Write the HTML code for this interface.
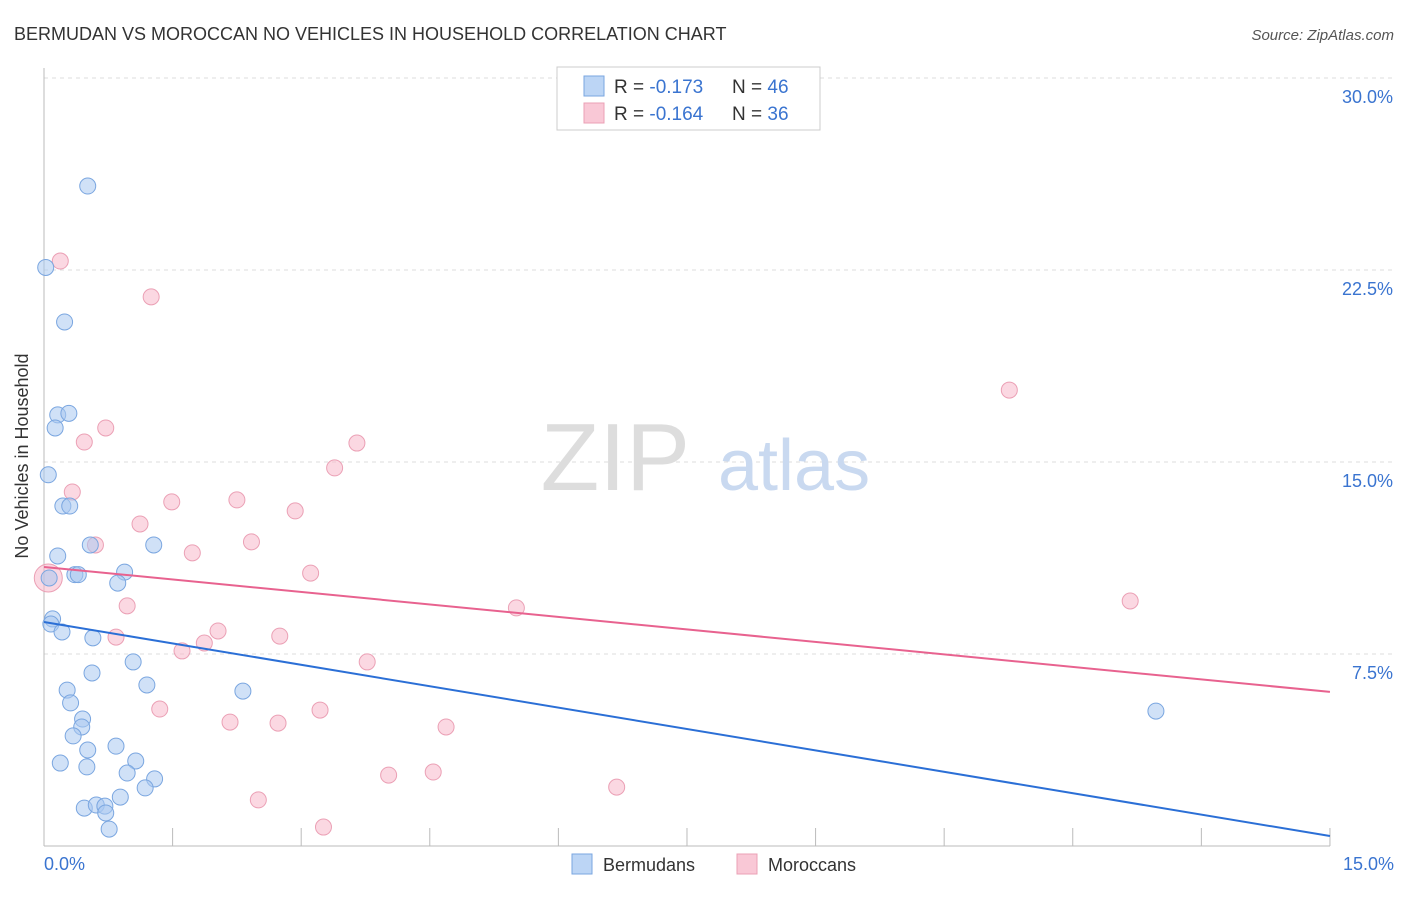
<!DOCTYPE html>
<html><head><meta charset="utf-8"><style>
body{margin:0;background:#fff;font-family:"Liberation Sans",sans-serif;}
svg text{font-family:"Liberation Sans",sans-serif;}
</style></head><body>
<svg id="chart" width="1406" height="892">
<text x="14" y="40" font-size="18" fill="#333">BERMUDAN VS MOROCCAN NO VEHICLES IN HOUSEHOLD CORRELATION CHART</text>
<text x="1394" y="40" font-size="15" fill="#555" font-style="italic" text-anchor="end">Source: ZipAtlas.com</text>
<g id="grid"></g>
<text x="690" y="490" font-size="96" fill="#ddd" text-anchor="end" font-family="Liberation Serif">ZIP</text>
<text x="718" y="490" font-size="72" fill="#c9d9f0">atlas</text>
<line x1="44" y1="68" x2="44" y2="846" stroke="#bbb"/>
<line x1="44" y1="846" x2="1330" y2="846" stroke="#bbb"/>
<g id="ticks"></g>
<text x="28" y="456" font-size="18" fill="#333" text-anchor="middle" transform="rotate(-90 28 456)">No Vehicles in Household</text>
<text x="44" y="870" font-size="18" fill="#3a74d0">0.0%</text>
<text x="1394" y="870" font-size="18" fill="#3a74d0" text-anchor="end">15.0%</text>
<g id="pts"></g>
<g id="lines"></g>
<g>
<rect x="557" y="67" width="263" height="63" fill="#fff" stroke="#ccc"/>
<rect x="584" y="76" width="20" height="20" fill="#bcd5f5" stroke="#7aa6e0"/>
<rect x="584" y="103" width="20" height="20" fill="#f9c8d6" stroke="#eba0b5"/>
<text x="614" y="93" font-size="19" fill="#333">R = <tspan fill="#3a74d0">-0.173</tspan><tspan x="732">N = </tspan><tspan fill="#3a74d0">46</tspan></text>
<text x="614" y="120" font-size="19" fill="#333">R = <tspan fill="#3a74d0">-0.164</tspan><tspan x="732">N = </tspan><tspan fill="#3a74d0">36</tspan></text>
</g>
<g>
<rect x="572" y="854" width="20" height="20" fill="#bcd5f5" stroke="#7aa6e0"/>
<text x="603" y="871" font-size="18" fill="#333">Bermudans</text>
<rect x="737" y="854" width="20" height="20" fill="#f9c8d6" stroke="#eba0b5"/>
<text x="768" y="871" font-size="18" fill="#333">Moroccans</text>
</g>
</svg>
<script>
const yTicks=[7.5,15,22.5,30];
const yTickLabels=["7.5%","15.0%","22.5%","30.0%"];
const xTicks=[0,1.5,3,4.5,6,7.5,9,10.5,12,13.5,15];
const bermX=[0.51,0.02,0.24,0.16,0.29,0.13,0.05,0.22,0.3,0.54,1.28,0.16,0.36,0.4,0.06,0.94,0.86,0.1,0.08,0.21,0.57,1.04,0.56,1.2,0.27,2.32,0.31,0.45,0.44,0.34,0.51,0.84,1.07,0.19,0.5,0.97,1.29,1.18,0.89,0.47,0.61,0.71,0.72,0.76,12.97];
const bermY=[25.78,22.6,20.47,16.84,16.9,16.33,14.5,13.28,13.28,11.76,11.76,11.33,10.6,10.6,10.47,10.7,10.27,8.87,8.67,8.36,8.13,7.19,6.76,6.29,6.09,6.05,5.59,4.96,4.65,4.3,3.75,3.9,3.32,3.24,3.09,2.85,2.62,2.27,1.91,1.48,1.6,1.56,1.29,0.66,5.27];
const morX=[0.19,1.25,11.26,0.72,0.47,3.65,3.39,0.33,1.49,2.25,2.93,1.12,0.6,2.42,1.73,3.11,0.05,5.51,12.67,0.97,0.84,2.03,2.75,1.87,1.61,3.77,1.35,2.17,2.73,3.22,4.69,4.02,4.54,6.68,2.5,3.26];
const morY=[22.85,21.45,17.81,16.33,15.78,15.74,14.77,13.83,13.44,13.52,13.09,12.58,11.76,11.88,11.45,10.66,10.47,9.3,9.57,9.38,8.16,8.4,8.2,7.93,7.62,7.19,5.35,4.84,4.8,5.31,4.65,2.77,2.89,2.3,1.8,0.74];
const bermTrend=[8.75,0.39];
const morTrend=[10.9,6.02];
const NS="http://www.w3.org/2000/svg";
const sx=v=>44+v*85.73, sy=v=>846-v*25.6;
function mk(tag,attrs,parent){const e=document.createElementNS(NS,tag);for(const k in attrs)e.setAttribute(k,attrs[k]);document.getElementById(parent).appendChild(e);return e;}
yTicks.forEach((t,i)=>{
 const l=mk('line',{x1:44,x2:1394,y1:sy(t),y2:sy(t),stroke:'#ddd','stroke-dasharray':'4,4'},'grid');
 
 
 const tx=mk('text',{x:1393,y:sy(t)+25,'font-size':18,fill:'#3a74d0','text-anchor':'end'},'grid');
 tx.textContent=yTickLabels[i];
 
 
});
xTicks.forEach(t=>{
 const l=mk('line',{x1:sx(t),x2:sx(t),y1:828,y2:846,stroke:'#bbb'},'ticks');
 
 
});
function pts(xs,ys,fill,stroke,name){xs.forEach((x,i)=>{
 const c=mk('circle',{cx:sx(x),cy:sy(ys[i]),r:(x<0.1&&name==='moroccan-point')?14:8,fill:fill,'fill-opacity':0.55,stroke:stroke,'stroke-width':1},'pts');
 
 
});}
pts(morX,morY,'#f7b8ca','#eba0b5','moroccan-point');
pts(bermX,bermY,'#a9c8f0','#7aa6e0','bermudan-point');
const bl=mk('line',{x1:sx(0),y1:sy(bermTrend[0]),x2:sx(15),y2:sy(bermTrend[1]),stroke:'#2b6fd6','stroke-width':2},'lines');


const ml=mk('line',{x1:sx(0),y1:sy(morTrend[0]),x2:sx(15),y2:sy(morTrend[1]),stroke:'#e8628f','stroke-width':2},'lines');


</script>
</body></html>
